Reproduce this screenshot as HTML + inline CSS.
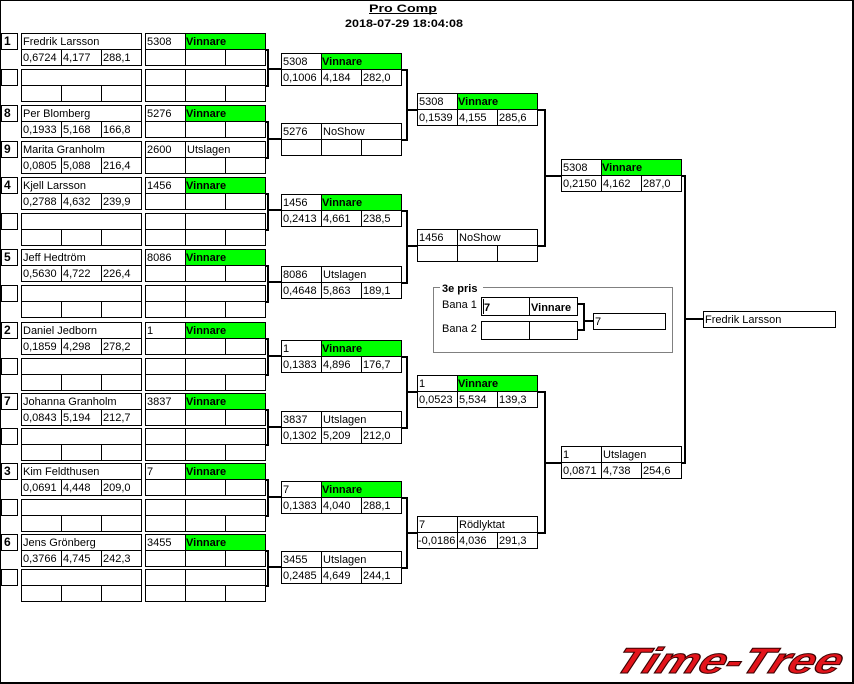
<!DOCTYPE html>
<html><head><meta charset="utf-8"><style>
html,body{margin:0;padding:0;background:#fff;}
body{width:854px;height:684px;overflow:hidden;}
svg{display:block;}
.t{font-family:"Liberation Sans",sans-serif;font-size:11px;fill:#000;}
.b{font-weight:bold;}
.s{font-family:"Liberation Sans",sans-serif;font-size:12px;font-weight:bold;fill:#000;}
</style></head><body>
<svg width="854" height="684" viewBox="0 0 854 684" xmlns="http://www.w3.org/2000/svg" shape-rendering="crispEdges">
<defs>
<g id="bx" fill="none" stroke="#000" stroke-width="1">
<rect x="0.5" y="0.5" width="120" height="32"/>
<line x1="0" y1="16.5" x2="121" y2="16.5"/>
<line x1="40.5" y1="0" x2="40.5" y2="33"/>
<line x1="80.5" y1="16" x2="80.5" y2="33"/>
</g>
<g id="nb" fill="none" stroke="#000" stroke-width="1">
<rect x="0.5" y="0.5" width="120" height="32"/>
<line x1="0" y1="16.5" x2="121" y2="16.5"/>
<line x1="40.5" y1="16" x2="40.5" y2="33"/>
<line x1="80.5" y1="16" x2="80.5" y2="33"/>
</g>
<rect id="sd" x="1.5" y="0.5" width="16" height="16" fill="none" stroke="#000" stroke-width="1"/>
</defs>

<!-- frame -->
<rect x="0" y="0" width="854" height="1" fill="#000"/>
<rect x="0" y="0" width="1" height="684" fill="#000"/>
<rect x="852" y="0" width="2" height="684" fill="#000"/>
<rect x="0" y="682" width="854" height="2" fill="#000"/>

<!-- title -->
<text x="403" y="12" text-anchor="middle" class="t b" font-size="13" textLength="68" lengthAdjust="spacingAndGlyphs">Pro Comp</text>
<rect x="369" y="13" width="68" height="1" fill="#000"/>
<text x="404" y="27" text-anchor="middle" class="t b" font-size="12" textLength="118" lengthAdjust="spacingAndGlyphs">2018-07-29 18:04:08</text>

<!-- green cells -->
<g fill="#00ff00">
<rect x="185" y="33" width="80" height="16"/>
<rect x="185" y="105" width="80" height="16"/>
<rect x="185" y="177" width="80" height="16"/>
<rect x="185" y="249" width="80" height="16"/>
<rect x="185" y="322" width="80" height="16"/>
<rect x="185" y="393" width="80" height="16"/>
<rect x="185" y="463" width="80" height="16"/>
<rect x="185" y="534" width="80" height="16"/>
<rect x="321" y="53" width="80" height="16"/>
<rect x="321" y="194" width="80" height="16"/>
<rect x="321" y="340" width="80" height="16"/>
<rect x="321" y="481" width="80" height="16"/>
<rect x="457" y="93" width="80" height="16"/>
<rect x="457" y="375" width="80" height="16"/>
<rect x="601" y="159" width="80" height="16"/>
</g>

<!-- ROUND 1 boxes -->
<use href="#sd" x="0" y="33"/><use href="#nb" x="21" y="33"/><use href="#bx" x="145" y="33"/>
<use href="#sd" x="0" y="69"/><use href="#nb" x="21" y="69"/><use href="#bx" x="145" y="69"/>
<use href="#sd" x="0" y="105"/><use href="#nb" x="21" y="105"/><use href="#bx" x="145" y="105"/>
<use href="#sd" x="0" y="141"/><use href="#nb" x="21" y="141"/><use href="#bx" x="145" y="141"/>
<use href="#sd" x="0" y="177"/><use href="#nb" x="21" y="177"/><use href="#bx" x="145" y="177"/>
<use href="#sd" x="0" y="213"/><use href="#nb" x="21" y="213"/><use href="#bx" x="145" y="213"/>
<use href="#sd" x="0" y="249"/><use href="#nb" x="21" y="249"/><use href="#bx" x="145" y="249"/>
<use href="#sd" x="0" y="285"/><use href="#nb" x="21" y="285"/><use href="#bx" x="145" y="285"/>
<use href="#sd" x="0" y="322"/><use href="#nb" x="21" y="322"/><use href="#bx" x="145" y="322"/>
<use href="#sd" x="0" y="358"/><use href="#nb" x="21" y="358"/><use href="#bx" x="145" y="358"/>
<use href="#sd" x="0" y="393"/><use href="#nb" x="21" y="393"/><use href="#bx" x="145" y="393"/>
<use href="#sd" x="0" y="428"/><use href="#nb" x="21" y="428"/><use href="#bx" x="145" y="428"/>
<use href="#sd" x="0" y="463"/><use href="#nb" x="21" y="463"/><use href="#bx" x="145" y="463"/>
<use href="#sd" x="0" y="499"/><use href="#nb" x="21" y="499"/><use href="#bx" x="145" y="499"/>
<use href="#sd" x="0" y="534"/><use href="#nb" x="21" y="534"/><use href="#bx" x="145" y="534"/>
<use href="#sd" x="0" y="569"/><use href="#nb" x="21" y="569"/><use href="#bx" x="145" y="569"/>

<!-- ROUND 2 boxes -->
<use href="#bx" x="281" y="53"/>
<use href="#bx" x="281" y="123"/>
<use href="#bx" x="281" y="194"/>
<use href="#bx" x="281" y="266"/>
<use href="#bx" x="281" y="340"/>
<use href="#bx" x="281" y="411"/>
<use href="#bx" x="281" y="481"/>
<use href="#bx" x="281" y="551"/>
<!-- ROUND 3 -->
<use href="#bx" x="417" y="93"/>
<use href="#bx" x="417" y="229"/>
<use href="#bx" x="417" y="375"/>
<use href="#bx" x="417" y="516"/>
<!-- ROUND 4 -->
<use href="#bx" x="561" y="159"/>
<use href="#bx" x="561" y="446"/>
<!-- final -->
<rect x="703.5" y="311.5" width="132" height="16" fill="none" stroke="#000"/>

<!-- connectors -->
<g fill="#000">
<rect x="266" y="49" width="3" height="2"/><rect x="266" y="85" width="3" height="2"/><rect x="267" y="49" width="2" height="38"/><rect x="267" y="68" width="14" height="2"/>
<rect x="266" y="121" width="3" height="2"/><rect x="266" y="157" width="3" height="2"/><rect x="267" y="121" width="2" height="38"/><rect x="267" y="138" width="14" height="2"/>
<rect x="266" y="193" width="3" height="2"/><rect x="266" y="229" width="3" height="2"/><rect x="267" y="193" width="2" height="38"/><rect x="267" y="209" width="14" height="2"/>
<rect x="266" y="265" width="3" height="2"/><rect x="266" y="301" width="3" height="2"/><rect x="267" y="265" width="2" height="38"/><rect x="267" y="281" width="14" height="2"/>
<rect x="266" y="338" width="3" height="2"/><rect x="266" y="374" width="3" height="2"/><rect x="267" y="338" width="2" height="38"/><rect x="267" y="355" width="14" height="2"/>
<rect x="266" y="409" width="3" height="2"/><rect x="266" y="444" width="3" height="2"/><rect x="267" y="409" width="2" height="37"/><rect x="267" y="426" width="14" height="2"/>
<rect x="266" y="479" width="3" height="2"/><rect x="266" y="515" width="3" height="2"/><rect x="267" y="479" width="2" height="38"/><rect x="267" y="496" width="14" height="2"/>
<rect x="266" y="550" width="3" height="2"/><rect x="266" y="585" width="3" height="2"/><rect x="267" y="550" width="2" height="37"/><rect x="267" y="566" width="14" height="2"/>
<rect x="402" y="69" width="6" height="2"/><rect x="402" y="139" width="6" height="2"/><rect x="406" y="69" width="2" height="72"/><rect x="406" y="109" width="11" height="2"/>
<rect x="402" y="210" width="6" height="2"/><rect x="402" y="282" width="6" height="2"/><rect x="406" y="210" width="2" height="74"/><rect x="406" y="245" width="11" height="2"/>
<rect x="402" y="356" width="6" height="2"/><rect x="402" y="427" width="6" height="2"/><rect x="406" y="356" width="2" height="73"/><rect x="406" y="391" width="11" height="2"/>
<rect x="402" y="497" width="6" height="2"/><rect x="402" y="567" width="6" height="2"/><rect x="406" y="497" width="2" height="72"/><rect x="406" y="532" width="11" height="2"/>
<rect x="538" y="109" width="8" height="2"/><rect x="538" y="245" width="8" height="2"/><rect x="544" y="109" width="2" height="138"/><rect x="544" y="175" width="17" height="2"/>
<rect x="538" y="391" width="8" height="2"/><rect x="538" y="532" width="8" height="2"/><rect x="544" y="391" width="2" height="143"/><rect x="544" y="462" width="17" height="2"/>
<rect x="682" y="175" width="4" height="2"/><rect x="682" y="462" width="4" height="2"/><rect x="684" y="175" width="2" height="289"/><rect x="684" y="318" width="19" height="2"/>
</g>

<!-- 3e pris -->
<rect x="433.5" y="287.5" width="239" height="65" fill="none" stroke="#808080"/>
<rect x="440" y="281" width="43" height="12" fill="#fff"/>
<text x="442" y="292" class="t b">3e pris</text>
<text x="442" y="308" class="t">Bana 1</text>
<text x="442" y="332" class="t">Bana 2</text>
<rect x="481.5" y="297.5" width="96" height="18" fill="none" stroke="#000"/>
<line x1="529.5" y1="297" x2="529.5" y2="316" stroke="#000"/>
<rect x="483" y="299" width="1" height="15" fill="#000"/>
<text x="484" y="311" class="t b">7</text>
<text x="531" y="311" class="t b">Vinnare</text>
<rect x="481.5" y="321.5" width="96" height="18" fill="none" stroke="#000"/>
<line x1="529.5" y1="321" x2="529.5" y2="340" stroke="#000"/>
<g fill="#000">
<rect x="578" y="303" width="7" height="2"/><rect x="578" y="329" width="7" height="2"/><rect x="583" y="303" width="2" height="28"/><rect x="583" y="320" width="10" height="2"/>
</g>
<rect x="593.5" y="313.5" width="72" height="16" fill="none" stroke="#000"/>
<text x="595" y="325" class="t">7</text>

<!-- ROUND 1 text -->
<text x="4" y="45" class="s">1</text><text x="23" y="45" class="t">Fredrik Larsson</text>
<text x="23" y="61" class="t">0,6724</text><text x="63" y="61" class="t">4,177</text><text x="103" y="61" class="t">288,1</text>
<text x="147" y="45" class="t">5308</text><text x="186" y="45" class="t b">Vinnare</text>

<text x="4" y="117" class="s">8</text><text x="23" y="117" class="t">Per Blomberg</text>
<text x="23" y="133" class="t">0,1933</text><text x="63" y="133" class="t">5,168</text><text x="103" y="133" class="t">166,8</text>
<text x="147" y="117" class="t">5276</text><text x="186" y="117" class="t b">Vinnare</text>
<text x="4" y="153" class="s">9</text><text x="23" y="153" class="t">Marita Granholm</text>
<text x="23" y="169" class="t">0,0805</text><text x="63" y="169" class="t">5,088</text><text x="103" y="169" class="t">216,4</text>
<text x="147" y="153" class="t">2600</text><text x="187" y="153" class="t">Utslagen</text>

<text x="4" y="189" class="s">4</text><text x="23" y="189" class="t">Kjell Larsson</text>
<text x="23" y="205" class="t">0,2788</text><text x="63" y="205" class="t">4,632</text><text x="103" y="205" class="t">239,9</text>
<text x="147" y="189" class="t">1456</text><text x="186" y="189" class="t b">Vinnare</text>

<text x="4" y="261" class="s">5</text><text x="23" y="261" class="t">Jeff Hedtröm</text>
<text x="23" y="277" class="t">0,5630</text><text x="63" y="277" class="t">4,722</text><text x="103" y="277" class="t">226,4</text>
<text x="147" y="261" class="t">8086</text><text x="186" y="261" class="t b">Vinnare</text>

<text x="4" y="334" class="s">2</text><text x="23" y="334" class="t">Daniel Jedborn</text>
<text x="23" y="350" class="t">0,1859</text><text x="63" y="350" class="t">4,298</text><text x="103" y="350" class="t">278,2</text>
<text x="147" y="334" class="t">1</text><text x="186" y="334" class="t b">Vinnare</text>

<text x="4" y="405" class="s">7</text><text x="23" y="405" class="t">Johanna Granholm</text>
<text x="23" y="421" class="t">0,0843</text><text x="63" y="421" class="t">5,194</text><text x="103" y="421" class="t">212,7</text>
<text x="147" y="405" class="t">3837</text><text x="186" y="405" class="t b">Vinnare</text>

<text x="4" y="475" class="s">3</text><text x="23" y="475" class="t">Kim Feldthusen</text>
<text x="23" y="491" class="t">0,0691</text><text x="63" y="491" class="t">4,448</text><text x="103" y="491" class="t">209,0</text>
<text x="147" y="475" class="t">7</text><text x="186" y="475" class="t b">Vinnare</text>

<text x="4" y="546" class="s">6</text><text x="23" y="546" class="t">Jens Grönberg</text>
<text x="23" y="562" class="t">0,3766</text><text x="63" y="562" class="t">4,745</text><text x="103" y="562" class="t">242,3</text>
<text x="147" y="546" class="t">3455</text><text x="186" y="546" class="t b">Vinnare</text>

<!-- ROUND 2 text -->
<text x="283" y="65" class="t">5308</text><text x="322" y="65" class="t b">Vinnare</text>
<text x="283" y="81" class="t">0,1006</text><text x="323" y="81" class="t">4,184</text><text x="363" y="81" class="t">282,0</text>
<text x="283" y="135" class="t">5276</text><text x="323" y="135" class="t">NoShow</text>
<text x="283" y="206" class="t">1456</text><text x="322" y="206" class="t b">Vinnare</text>
<text x="283" y="222" class="t">0,2413</text><text x="323" y="222" class="t">4,661</text><text x="363" y="222" class="t">238,5</text>
<text x="283" y="278" class="t">8086</text><text x="323" y="278" class="t">Utslagen</text>
<text x="283" y="294" class="t">0,4648</text><text x="323" y="294" class="t">5,863</text><text x="363" y="294" class="t">189,1</text>
<text x="283" y="352" class="t">1</text><text x="322" y="352" class="t b">Vinnare</text>
<text x="283" y="368" class="t">0,1383</text><text x="323" y="368" class="t">4,896</text><text x="363" y="368" class="t">176,7</text>
<text x="283" y="423" class="t">3837</text><text x="323" y="423" class="t">Utslagen</text>
<text x="283" y="439" class="t">0,1302</text><text x="323" y="439" class="t">5,209</text><text x="363" y="439" class="t">212,0</text>
<text x="283" y="493" class="t">7</text><text x="322" y="493" class="t b">Vinnare</text>
<text x="283" y="509" class="t">0,1383</text><text x="323" y="509" class="t">4,040</text><text x="363" y="509" class="t">288,1</text>
<text x="283" y="563" class="t">3455</text><text x="323" y="563" class="t">Utslagen</text>
<text x="283" y="579" class="t">0,2485</text><text x="323" y="579" class="t">4,649</text><text x="363" y="579" class="t">244,1</text>

<!-- ROUND 3 text -->
<text x="419" y="105" class="t">5308</text><text x="458" y="105" class="t b">Vinnare</text>
<text x="419" y="121" class="t">0,1539</text><text x="459" y="121" class="t">4,155</text><text x="499" y="121" class="t">285,6</text>
<text x="419" y="241" class="t">1456</text><text x="459" y="241" class="t">NoShow</text>
<text x="419" y="387" class="t">1</text><text x="458" y="387" class="t b">Vinnare</text>
<text x="419" y="403" class="t">0,0523</text><text x="459" y="403" class="t">5,534</text><text x="499" y="403" class="t">139,3</text>
<text x="419" y="528" class="t">7</text><text x="459" y="528" class="t">Rödlyktat</text>
<text x="418" y="544" class="t">-0,0186</text><text x="459" y="544" class="t">4,036</text><text x="499" y="544" class="t">291,3</text>

<!-- ROUND 4 text -->
<text x="563" y="171" class="t">5308</text><text x="602" y="171" class="t b">Vinnare</text>
<text x="563" y="187" class="t">0,2150</text><text x="603" y="187" class="t">4,162</text><text x="643" y="187" class="t">287,0</text>
<text x="563" y="458" class="t">1</text><text x="603" y="458" class="t">Utslagen</text>
<text x="563" y="474" class="t">0,0871</text><text x="603" y="474" class="t">4,738</text><text x="643" y="474" class="t">254,6</text>

<!-- final -->
<text x="705" y="323" class="t">Fredrik Larsson</text>

<!-- logo -->
<g transform="translate(612,673) skewX(-22)" shape-rendering="geometricPrecision">
<text x="0" y="0" font-family="Liberation Sans, sans-serif" font-size="36" font-weight="bold" font-style="italic" fill="#e3141b" stroke="#3a0000" stroke-width="1" textLength="226" lengthAdjust="spacingAndGlyphs">Time-Tree</text>
</g>
</svg>
</body></html>
